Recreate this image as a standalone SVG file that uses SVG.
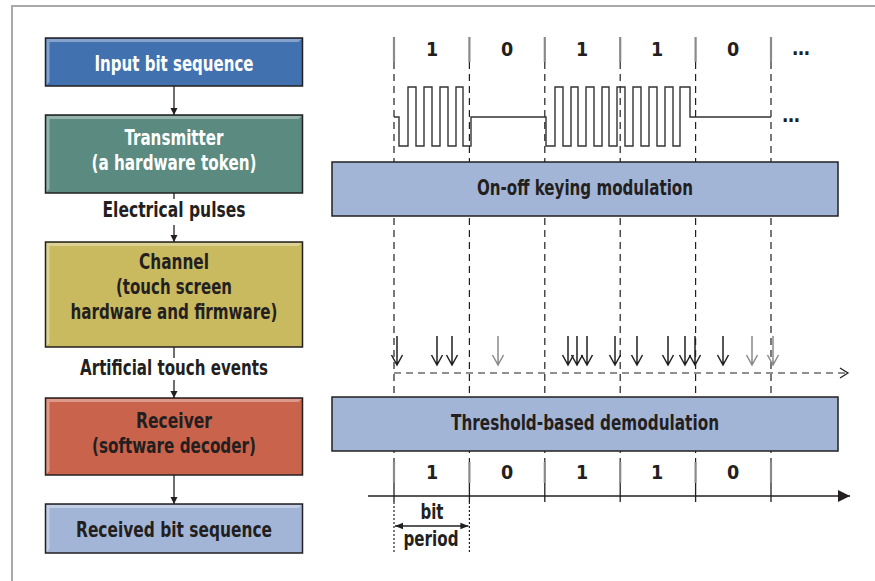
<svg xmlns="http://www.w3.org/2000/svg" width="875" height="581" viewBox="0 0 875 581">
<defs>
<style>
.lbl{font-family:"Liberation Sans Narrow","DejaVu Sans Condensed","Liberation Sans",Arial,sans-serif;font-weight:bold;font-size:20.5px;text-anchor:middle}
.num{font-size:19.5px}
.w{fill:#ffffff}
.d{fill:#231f20}
.box{stroke:#231f20;stroke-width:1.5}
.hi{fill:#ffffff;opacity:0.35}
.conn{stroke:#231f20;stroke-width:1.3;fill:none}
.vd{stroke:#231f20;stroke-width:1.2;stroke-dasharray:7 5;fill:none}
.tick{stroke:#8a8a8a;stroke-width:2.2}
.ev{stroke:#231f20;stroke-width:1.5;fill:none}
.evg{stroke:#8a8a8a;stroke-width:1.5;fill:none}
.rb{fill:#a3b5d6;stroke:#231f20;stroke-width:1.5}
</style>
<marker id="ah" viewBox="0 0 10 10" refX="10" refY="5" markerWidth="7" markerHeight="8" markerUnits="userSpaceOnUse" orient="auto">
<path d="M0,0 L10,5 L0,10 Z" fill="#231f20"/>
</marker>
<marker id="ahb" viewBox="0 0 10 10" refX="10" refY="5" markerWidth="20" markerHeight="12" markerUnits="userSpaceOnUse" orient="auto">
<path d="M0,0 L10,5 L0,10 Z" fill="#231f20"/>
</marker>
<marker id="ahs" viewBox="0 0 10 10" refX="10" refY="5" markerWidth="12" markerHeight="8" markerUnits="userSpaceOnUse" orient="auto-start-reverse">
<path d="M0,1 L10,5 L0,9 Z" fill="#231f20"/>
</marker>
</defs>
<rect width="875" height="581" fill="#ffffff"/>
<path d="M12,581 V6 H875" fill="none" stroke="#a7a9ac" stroke-width="2"/>

<!-- Left flow connectors -->
<g id="connectors">
<line class="conn" x1="174" y1="86" x2="174" y2="115" marker-end="url(#ah)"/>
<line class="conn" x1="174" y1="193" x2="174" y2="199"/>
<line class="conn" x1="174" y1="225" x2="174" y2="242" marker-end="url(#ah)"/>
<line class="conn" x1="174" y1="347" x2="174" y2="358"/>
<line class="conn" x1="174" y1="380" x2="174" y2="398" marker-end="url(#ah)"/>
<line class="conn" x1="174" y1="475" x2="174" y2="504" marker-end="url(#ah)"/>
<text class="lbl d" x="174" y="217" font-size="19.5" textLength="143" lengthAdjust="spacingAndGlyphs">Electrical pulses</text>
<text class="lbl d" x="174" y="375" font-size="19.5" textLength="188" lengthAdjust="spacingAndGlyphs">Artificial touch events</text>
</g>

<g id="input">
<rect class="box" x="45.5" y="38" width="257" height="48" fill="#4271b0"/>
<polygon class="hi" points="46.5,39 301.5,39 298.5,42 49.5,42"/>
<polygon class="hi" points="46.5,39 49.5,42 49.5,82 46.5,85"/>
<text class="lbl w" x="174" y="71" textLength="159" lengthAdjust="spacingAndGlyphs">Input bit sequence</text>
</g>

<g id="transmitter">
<rect class="box" x="45.5" y="115" width="257" height="78" fill="#5a8a80"/>
<polygon class="hi" points="46.5,116 301.5,116 298.5,119 49.5,119"/>
<polygon class="hi" points="46.5,116 49.5,119 49.5,189 46.5,192"/>
<text class="lbl w" x="174" y="145" textLength="99" lengthAdjust="spacingAndGlyphs">Transmitter</text>
<text class="lbl w" x="174" y="170" textLength="165" lengthAdjust="spacingAndGlyphs">(a hardware token)</text>
</g>

<g id="channel">
<rect class="box" x="45.5" y="242" width="257" height="105" fill="#c9b95f"/>
<polygon class="hi" points="46.5,243 301.5,243 298.5,246 49.5,246"/>
<polygon class="hi" points="46.5,243 49.5,246 49.5,343 46.5,346"/>
<text class="lbl d" x="174" y="269" textLength="70" lengthAdjust="spacingAndGlyphs">Channel</text>
<text class="lbl d" x="174" y="294" textLength="116" lengthAdjust="spacingAndGlyphs">(touch screen</text>
<text class="lbl d" x="174" y="319" textLength="207" lengthAdjust="spacingAndGlyphs">hardware and firmware)</text>
</g>

<g id="receiver">
<rect class="box" x="45.5" y="398" width="257" height="77" fill="#c9634b"/>
<polygon class="hi" points="46.5,399 301.5,399 298.5,402 49.5,402"/>
<polygon class="hi" points="46.5,399 49.5,402 49.5,471 46.5,474"/>
<text class="lbl d" x="174" y="428" textLength="76" lengthAdjust="spacingAndGlyphs">Receiver</text>
<text class="lbl d" x="174" y="453" textLength="164" lengthAdjust="spacingAndGlyphs">(software decoder)</text>
</g>

<g id="received">
<rect class="box" x="45.5" y="504" width="257" height="49" fill="#a3b5d6"/>
<polygon class="hi" points="46.5,505 301.5,505 298.5,508 49.5,508"/>
<polygon class="hi" points="46.5,505 49.5,508 49.5,549 46.5,552"/>
<text class="lbl d" x="174" y="537" textLength="196" lengthAdjust="spacingAndGlyphs">Received bit sequence</text>
</g>

<!-- Right-side timing diagram -->
<g id="timing-grid">
<path class="vd" d="M394,62 V462 M469.4,62 V462 M544.8,62 V462 M620.2,62 V462 M695.6,62 V462 M771,62 V462"/>
<path class="tick" d="M394,37 V62 M469.4,37 V62 M544.8,37 V62 M620.2,37 V62 M695.6,37 V62 M771,37 V62"/>
<path class="tick" d="M394,462 V483 M469.4,462 V483 M544.8,462 V483 M620.2,462 V483 M695.6,462 V483 M771,462 V483"/>
<path stroke="#231f20" stroke-width="1.3" d="M394,483 V502 M469.4,483 V502 M544.8,483 V502 M620.2,483 V502 M695.6,483 V502 M771,483 V502"/>
<path stroke="#231f20" stroke-width="1.2" stroke-dasharray="2 2" d="M394,502 V552 M469.4,502 V552"/>
</g>

<g id="top-bits" class="lbl num d">
<text x="432" y="56">1</text>
<text x="507" y="56">0</text>
<text x="582" y="56">1</text>
<text x="657" y="56">1</text>
<text x="733" y="56">0</text>
<text x="801" y="55">…</text>
</g>

<g id="waveform">
<path fill="none" stroke="#333333" stroke-width="1.4" d="M394,117 H399 V146 H408 V87 H416 V146 H424 V87 H432 V146 H440 V87 H448 V146 H456 V87 H463 V146 H471 V117 H546 V146 H555 V87 H563 V146 H571 V87 H578 V146 H586 V87 H594 V146 H602 V87 H609 V146 H617 V87 H625 V146 H633 V87 H641 V146 H649 V87 H657 V146 H665 V87 H673 V146 H680 V87 H690 V117 H771"/>
<text class="lbl num d" x="791" y="122">…</text>
</g>

<g id="modulation">
<rect class="rb" x="332" y="162" width="506" height="54"/>
<text class="lbl d" x="585" y="195" textLength="216" lengthAdjust="spacingAndGlyphs">On-off keying modulation</text>
</g>

<g id="touch-events">
<path stroke="#231f20" stroke-width="1.2" stroke-dasharray="7 5" fill="none" d="M394,373 H846"/>
<path d="M840,368 L848,373 L840,378" fill="none" stroke="#231f20" stroke-width="1.3"/>
<path class="ev" d="M397,336 V365 M391.5,355 L397,365 L402.5,355"/>
<path class="ev" d="M437,336 V365 M431.5,355 L437,365 L442.5,355"/>
<path class="ev" d="M452,336 V365 M446.5,355 L452,365 L457.5,355"/>
<path class="evg" d="M498,336 V365 M492.5,355 L498,365 L503.5,355"/>
<path class="ev" d="M568,336 V365 M562.5,355 L568,365 L573.5,355"/>
<path class="ev" d="M577,336 V365 M571.5,355 L577,365 L582.5,355"/>
<path class="ev" d="M587,336 V365 M581.5,355 L587,365 L592.5,355"/>
<path class="ev" d="M615,336 V365 M609.5,355 L615,365 L620.5,355"/>
<path class="ev" d="M637,336 V365 M631.5,355 L637,365 L642.5,355"/>
<path class="ev" d="M668,336 V365 M662.5,355 L668,365 L673.5,355"/>
<path class="ev" d="M685,336 V365 M679.5,355 L685,365 L690.5,355"/>
<path class="ev" d="M695,336 V365 M689.5,355 L695,365 L700.5,355"/>
<path class="ev" d="M723,336 V365 M717.5,355 L723,365 L728.5,355"/>
<path class="evg" d="M752,336 V365 M746.5,355 L752,365 L757.5,355"/>
<path class="evg" d="M773,336 V365 M767.5,355 L773,365 L778.5,355"/>
</g>

<g id="demodulation">
<rect class="rb" x="332" y="397" width="506" height="54"/>
<text class="lbl d" x="585" y="430" textLength="268" lengthAdjust="spacingAndGlyphs">Threshold-based demodulation</text>
</g>

<g id="bottom-bits" class="lbl num d">
<text x="432" y="479">1</text>
<text x="507" y="479">0</text>
<text x="582" y="479">1</text>
<text x="657" y="479">1</text>
<text x="733" y="479">0</text>
</g>

<g id="time-axis">
<line x1="368" y1="496" x2="850" y2="496" stroke="#231f20" stroke-width="1.5" marker-end="url(#ahb)"/>
</g>

<g id="bit-period">
<line x1="395" y1="526" x2="468.4" y2="526" stroke="#231f20" stroke-width="1.3" marker-start="url(#ahs)" marker-end="url(#ahs)"/>
<text class="lbl d" x="432" y="519" font-size="19.5" textLength="23" lengthAdjust="spacingAndGlyphs">bit</text>
<text class="lbl d" x="431" y="546" font-size="19.5" textLength="55" lengthAdjust="spacingAndGlyphs">period</text>
</g>
</svg>
